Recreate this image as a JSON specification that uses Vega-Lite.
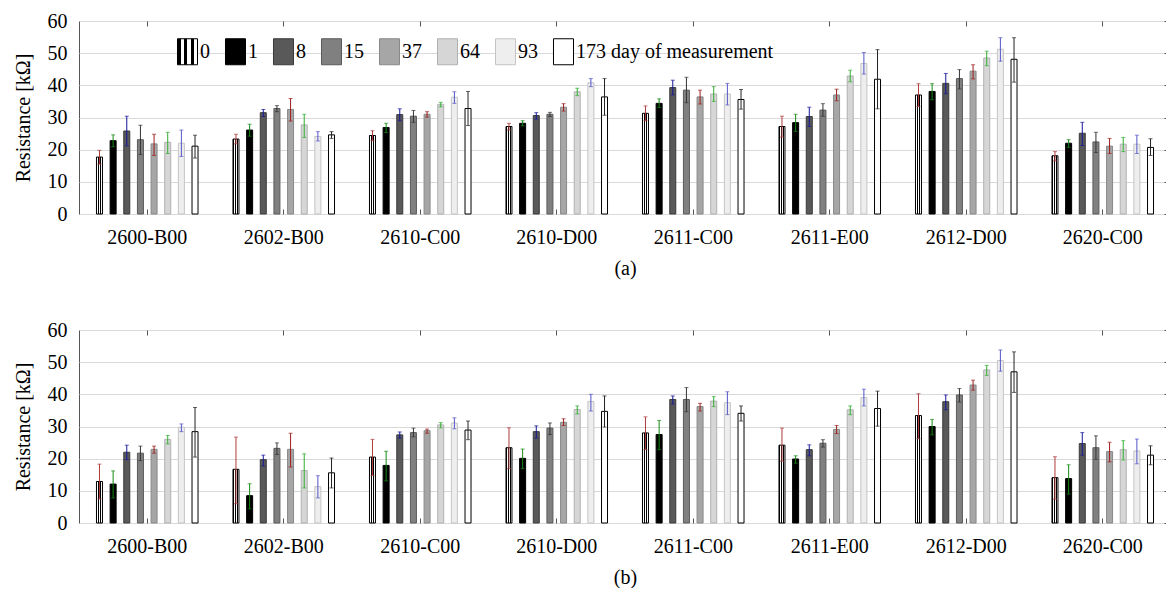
{
  "$schema": "https://vega.github.io/schema/vega-lite/v6.json",
  "padding": {"left": 12, "top": 10, "right": -6, "bottom": 0},
  "spacing": 40,
  "config": {
    "font": "Liberation Serif",
    "view": {"stroke": "#555555", "strokeWidth": 1},
    "axis": {"labelFont": "Liberation Serif", "titleFont": "Liberation Serif", "labelFontSize": 20, "titleFontSize": 20, "labelColor": "#000000", "titleColor": "#000000", "titleFontWeight": "normal", "domain": false}
  },
  "datasets": {
    "a": [
      {"device":"2600-B00","day":"0","r":17.7,"lo":15.5,"hi":19.8},
      {"device":"2600-B00","day":"1","r":22.8,"lo":20.9,"hi":24.6},
      {"device":"2600-B00","day":"8","r":25.8,"lo":21.2,"hi":30.4},
      {"device":"2600-B00","day":"15","r":23.1,"lo":18.5,"hi":27.6},
      {"device":"2600-B00","day":"37","r":21.8,"lo":18.2,"hi":24.8},
      {"device":"2600-B00","day":"64","r":22.3,"lo":18.8,"hi":25.4},
      {"device":"2600-B00","day":"93","r":22.0,"lo":17.9,"hi":26.1},
      {"device":"2600-B00","day":"173","r":21.1,"lo":17.4,"hi":24.5},
      {"device":"2602-B00","day":"0","r":23.3,"lo":21.8,"hi":24.8},
      {"device":"2602-B00","day":"1","r":26.1,"lo":24.2,"hi":27.9},
      {"device":"2602-B00","day":"8","r":31.5,"lo":30.3,"hi":32.5},
      {"device":"2602-B00","day":"15","r":32.8,"lo":31.8,"hi":33.7},
      {"device":"2602-B00","day":"37","r":32.5,"lo":28.9,"hi":35.9},
      {"device":"2602-B00","day":"64","r":27.7,"lo":23.8,"hi":31.0},
      {"device":"2602-B00","day":"93","r":24.1,"lo":22.7,"hi":25.6},
      {"device":"2602-B00","day":"173","r":24.6,"lo":23.5,"hi":25.6},
      {"device":"2610-C00","day":"0","r":24.4,"lo":22.8,"hi":25.9},
      {"device":"2610-C00","day":"1","r":26.9,"lo":25.3,"hi":28.2},
      {"device":"2610-C00","day":"8","r":30.9,"lo":29.0,"hi":32.7},
      {"device":"2610-C00","day":"15","r":30.4,"lo":28.5,"hi":32.2},
      {"device":"2610-C00","day":"37","r":31.0,"lo":30.1,"hi":31.8},
      {"device":"2610-C00","day":"64","r":34.1,"lo":33.3,"hi":34.7},
      {"device":"2610-C00","day":"93","r":36.3,"lo":34.4,"hi":38.0},
      {"device":"2610-C00","day":"173","r":32.8,"lo":27.5,"hi":38.1},
      {"device":"2610-D00","day":"0","r":27.2,"lo":26.1,"hi":28.2},
      {"device":"2610-D00","day":"1","r":28.2,"lo":27.4,"hi":29.0},
      {"device":"2610-D00","day":"8","r":30.6,"lo":29.5,"hi":31.5},
      {"device":"2610-D00","day":"15","r":31.0,"lo":30.3,"hi":31.6},
      {"device":"2610-D00","day":"37","r":33.2,"lo":32.0,"hi":34.3},
      {"device":"2610-D00","day":"64","r":38.0,"lo":36.8,"hi":39.1},
      {"device":"2610-D00","day":"93","r":40.8,"lo":39.6,"hi":42.1},
      {"device":"2610-D00","day":"173","r":36.4,"lo":30.7,"hi":42.1},
      {"device":"2611-C00","day":"0","r":31.3,"lo":29.0,"hi":33.6},
      {"device":"2611-C00","day":"1","r":34.4,"lo":33.1,"hi":35.8},
      {"device":"2611-C00","day":"8","r":39.3,"lo":37.0,"hi":41.6},
      {"device":"2611-C00","day":"15","r":38.5,"lo":34.6,"hi":42.5},
      {"device":"2611-C00","day":"37","r":36.4,"lo":34.2,"hi":38.5},
      {"device":"2611-C00","day":"64","r":37.3,"lo":35.0,"hi":39.6},
      {"device":"2611-C00","day":"93","r":37.3,"lo":33.9,"hi":40.6},
      {"device":"2611-C00","day":"173","r":35.6,"lo":32.6,"hi":38.7},
      {"device":"2611-E00","day":"0","r":27.2,"lo":23.9,"hi":30.4},
      {"device":"2611-E00","day":"1","r":28.4,"lo":25.7,"hi":31.0},
      {"device":"2611-E00","day":"8","r":30.3,"lo":27.2,"hi":33.2},
      {"device":"2611-E00","day":"15","r":32.3,"lo":30.4,"hi":34.3},
      {"device":"2611-E00","day":"37","r":37.0,"lo":35.2,"hi":38.8},
      {"device":"2611-E00","day":"64","r":42.9,"lo":41.1,"hi":44.7},
      {"device":"2611-E00","day":"93","r":46.8,"lo":43.5,"hi":50.2},
      {"device":"2611-E00","day":"173","r":41.9,"lo":32.7,"hi":51.1},
      {"device":"2612-D00","day":"0","r":37.0,"lo":33.4,"hi":40.5},
      {"device":"2612-D00","day":"1","r":38.1,"lo":35.5,"hi":40.5},
      {"device":"2612-D00","day":"8","r":40.6,"lo":37.4,"hi":43.7},
      {"device":"2612-D00","day":"15","r":42.1,"lo":38.9,"hi":44.9},
      {"device":"2612-D00","day":"37","r":44.4,"lo":42.0,"hi":46.4},
      {"device":"2612-D00","day":"64","r":48.5,"lo":46.1,"hi":50.6},
      {"device":"2612-D00","day":"93","r":51.2,"lo":47.5,"hi":54.8},
      {"device":"2612-D00","day":"173","r":48.1,"lo":41.0,"hi":54.8},
      {"device":"2620-C00","day":"0","r":18.1,"lo":16.5,"hi":19.4},
      {"device":"2620-C00","day":"1","r":22.0,"lo":20.7,"hi":23.1},
      {"device":"2620-C00","day":"8","r":25.1,"lo":21.3,"hi":28.5},
      {"device":"2620-C00","day":"15","r":22.4,"lo":19.1,"hi":25.4},
      {"device":"2620-C00","day":"37","r":21.1,"lo":18.8,"hi":23.5},
      {"device":"2620-C00","day":"64","r":21.7,"lo":19.4,"hi":23.8},
      {"device":"2620-C00","day":"93","r":21.7,"lo":18.8,"hi":24.5},
      {"device":"2620-C00","day":"173","r":20.7,"lo":18.2,"hi":23.4}
    ],
    "b": [
      {"device":"2600-B00","day":"0","r":12.9,"lo":7.5,"hi":18.3},
      {"device":"2600-B00","day":"1","r":12.1,"lo":7.8,"hi":16.2},
      {"device":"2600-B00","day":"8","r":22.0,"lo":19.7,"hi":24.2},
      {"device":"2600-B00","day":"15","r":21.7,"lo":19.4,"hi":23.9},
      {"device":"2600-B00","day":"37","r":22.9,"lo":21.7,"hi":23.9},
      {"device":"2600-B00","day":"64","r":26.0,"lo":24.6,"hi":27.2},
      {"device":"2600-B00","day":"93","r":29.8,"lo":28.4,"hi":30.8},
      {"device":"2600-B00","day":"173","r":28.4,"lo":20.5,"hi":35.9},
      {"device":"2602-B00","day":"0","r":16.7,"lo":6.0,"hi":26.7},
      {"device":"2602-B00","day":"1","r":8.5,"lo":4.4,"hi":12.2},
      {"device":"2602-B00","day":"8","r":19.7,"lo":17.7,"hi":21.1},
      {"device":"2602-B00","day":"15","r":23.2,"lo":21.3,"hi":24.9},
      {"device":"2602-B00","day":"37","r":22.9,"lo":17.4,"hi":27.9},
      {"device":"2602-B00","day":"64","r":16.3,"lo":10.9,"hi":21.5},
      {"device":"2602-B00","day":"93","r":11.3,"lo":7.8,"hi":14.7},
      {"device":"2602-B00","day":"173","r":15.6,"lo":10.9,"hi":20.2},
      {"device":"2610-C00","day":"0","r":20.5,"lo":14.8,"hi":26.0},
      {"device":"2610-C00","day":"1","r":17.9,"lo":13.1,"hi":22.3},
      {"device":"2610-C00","day":"8","r":27.4,"lo":26.4,"hi":28.3},
      {"device":"2610-C00","day":"15","r":28.1,"lo":26.8,"hi":29.5},
      {"device":"2610-C00","day":"37","r":28.7,"lo":27.9,"hi":29.2},
      {"device":"2610-C00","day":"64","r":30.5,"lo":29.6,"hi":31.2},
      {"device":"2610-C00","day":"93","r":31.1,"lo":29.3,"hi":32.7},
      {"device":"2610-C00","day":"173","r":28.9,"lo":25.9,"hi":31.7},
      {"device":"2610-D00","day":"0","r":23.4,"lo":16.9,"hi":29.6},
      {"device":"2610-D00","day":"1","r":20.1,"lo":16.9,"hi":23.0},
      {"device":"2610-D00","day":"8","r":28.4,"lo":26.4,"hi":30.2},
      {"device":"2610-D00","day":"15","r":29.5,"lo":27.5,"hi":31.1},
      {"device":"2610-D00","day":"37","r":31.3,"lo":30.3,"hi":32.4},
      {"device":"2610-D00","day":"64","r":35.3,"lo":33.9,"hi":36.4},
      {"device":"2610-D00","day":"93","r":37.8,"lo":34.8,"hi":40.0},
      {"device":"2610-D00","day":"173","r":34.7,"lo":29.8,"hi":39.5},
      {"device":"2611-C00","day":"0","r":28.0,"lo":22.8,"hi":33.0},
      {"device":"2611-C00","day":"1","r":27.5,"lo":22.8,"hi":31.9},
      {"device":"2611-C00","day":"8","r":38.4,"lo":37.0,"hi":39.5},
      {"device":"2611-C00","day":"15","r":38.4,"lo":34.6,"hi":42.1},
      {"device":"2611-C00","day":"37","r":36.2,"lo":34.8,"hi":37.2},
      {"device":"2611-C00","day":"64","r":37.9,"lo":36.2,"hi":39.3},
      {"device":"2611-C00","day":"93","r":37.4,"lo":33.7,"hi":40.8},
      {"device":"2611-C00","day":"173","r":34.1,"lo":31.7,"hi":36.4},
      {"device":"2611-E00","day":"0","r":24.2,"lo":19.2,"hi":29.5},
      {"device":"2611-E00","day":"1","r":19.9,"lo":18.6,"hi":20.9},
      {"device":"2611-E00","day":"8","r":22.8,"lo":20.9,"hi":24.3},
      {"device":"2611-E00","day":"15","r":24.8,"lo":23.6,"hi":25.9},
      {"device":"2611-E00","day":"37","r":29.1,"lo":27.8,"hi":30.3},
      {"device":"2611-E00","day":"64","r":35.2,"lo":33.7,"hi":36.4},
      {"device":"2611-E00","day":"93","r":39.0,"lo":36.4,"hi":41.6},
      {"device":"2611-E00","day":"173","r":35.6,"lo":30.1,"hi":41.0},
      {"device":"2612-D00","day":"0","r":33.4,"lo":26.2,"hi":40.2},
      {"device":"2612-D00","day":"1","r":30.0,"lo":27.4,"hi":32.2},
      {"device":"2612-D00","day":"8","r":37.7,"lo":35.2,"hi":39.8},
      {"device":"2612-D00","day":"15","r":39.8,"lo":37.6,"hi":41.8},
      {"device":"2612-D00","day":"37","r":42.9,"lo":41.3,"hi":44.4},
      {"device":"2612-D00","day":"64","r":47.6,"lo":45.9,"hi":49.0},
      {"device":"2612-D00","day":"93","r":50.5,"lo":47.2,"hi":53.8},
      {"device":"2612-D00","day":"173","r":47.0,"lo":40.6,"hi":53.2},
      {"device":"2620-C00","day":"0","r":14.1,"lo":7.4,"hi":20.6},
      {"device":"2620-C00","day":"1","r":13.8,"lo":9.0,"hi":18.1},
      {"device":"2620-C00","day":"8","r":24.7,"lo":21.1,"hi":28.1},
      {"device":"2620-C00","day":"15","r":23.4,"lo":19.8,"hi":27.1},
      {"device":"2620-C00","day":"37","r":22.2,"lo":19.0,"hi":25.1},
      {"device":"2620-C00","day":"64","r":22.8,"lo":19.6,"hi":25.6},
      {"device":"2620-C00","day":"93","r":22.4,"lo":18.4,"hi":26.1},
      {"device":"2620-C00","day":"173","r":21.1,"lo":18.1,"hi":24.0}
    ]
  },
  "vconcat": [
    {
      "width": 1092,
      "height": 193,
      "data": {"name": "a"},
      "encoding": {
        "xOffset": {"field": "day", "type": "nominal", "sort": ["0","1","8","15","37","64","93","173"], "scale": {"paddingInner": 0.56, "paddingOuter": 0.28}}
      },
      "layer": [
        {
          "mark": {"type": "bar", "strokeWidth": 1},
          "encoding": {
            "x": {"field": "device", "type": "nominal", "sort": null, "scale": {"paddingInner": 0.2, "paddingOuter": 0.1},
                  "axis": {"orient": "bottom", "title": "(a)", "labelAngle": 0, "labelPadding": 18, "ticks": true, "tickSize": -5, "tickColor": "#555555", "titlePadding": 11}},
            "y": {"field": "r", "type": "quantitative", "scale": {"domain": [0, 60], "nice": false},
                  "axis": {"title": "Resistance [kΩ]", "values": [0,10,20,30,40,50,60], "grid": true, "gridColor": "#d9d9d9", "ticks": false, "labelPadding": 12, "titlePadding": 14}},
            "fill": {"field": "day", "type": "nominal", "sort": ["0","1","8","15","37","64","93","173"],
                     "scale": {"domain": ["0","1","8","15","37","64","93","173"],
                               "range": [{"expr": "{gradient: 'linear', x1: 0, y1: 0, x2: 1, y2: 0, stops: [{offset: 0, color: '#000000'}, {offset: 0.167, color: '#000000'}, {offset: 0.167, color: '#ffffff'}, {offset: 0.333, color: '#ffffff'}, {offset: 0.333, color: '#000000'}, {offset: 0.5, color: '#000000'}, {offset: 0.5, color: '#ffffff'}, {offset: 0.667, color: '#ffffff'}, {offset: 0.667, color: '#000000'}, {offset: 0.833, color: '#000000'}, {offset: 0.833, color: '#ffffff'}, {offset: 1, color: '#ffffff'}]}"}, "#000000", "#595959", "#808080", "#a6a6a6", "#d6d6d6", "#eeeeee", "#ffffff"]},
                     "legend": {"orient": "none", "legendX": 95, "legendY": 17, "direction": "horizontal", "columns": 8, "title": null, "padding": 0,
                                "symbolType": "M-0.77,-1H0.77V1H-0.77Z", "symbolSize": 676, "symbolStrokeColor": "#444444", "symbolStrokeWidth": 1, "symbolOpacity": 1,
                                "labelFont": "Liberation Serif", "labelFontSize": 20, "labelColor": "#000000", "labelOffset": -1, "columnPadding": 12, "labelLimit": 300,
                                "labelExpr": "datum.label == '173' ? '173 day of measurement' : datum.label"}},
            "stroke": {"field": "day", "type": "nominal", "scale": {"domain": ["0","1","8","15","37","64","93","173"], "range": ["#000000","#000000","#3a3a3a","#5a5a5a","#888888","#b0b0b0","#c4c4c4","#000000"]}, "legend": null}
          }
        },
        {
          "mark": {"type": "rule", "strokeWidth": 1},
          "encoding": {
            "x": {"field": "device", "type": "nominal", "sort": null, "axis": {"orient": "top", "title": null, "labels": false, "ticks": true, "tickSize": -5, "tickColor": "#555555"}},
            "y": {"field": "lo", "type": "quantitative", "axis": {"orient": "right", "title": null, "labels": false, "grid": false, "ticks": true, "tickSize": -7, "tickColor": "#555555", "values": [0,10,20,30,40,50,60]}},
            "y2": {"field": "hi"},
            "color": {"field": "day", "type": "nominal", "scale": {"domain": ["0","1","8","15","37","64","93","173"], "range": ["#b03a3a","#138a13","#16169a","#333333","#a01c1c","#2fae2f","#5454c8","#222222"]}, "legend": null}
          }
        },
        {
          "mark": {"type": "tick", "size": 4, "thickness": 1},
          "encoding": {
            "x": {"field": "device", "type": "nominal", "sort": null, "axis": null},
            "y": {"field": "lo", "type": "quantitative", "axis": null},
            "color": {"field": "day", "type": "nominal", "legend": null}
          }
        },
        {
          "mark": {"type": "tick", "size": 4, "thickness": 1},
          "encoding": {
            "x": {"field": "device", "type": "nominal", "sort": null, "axis": null},
            "y": {"field": "hi", "type": "quantitative", "axis": null},
            "color": {"field": "day", "type": "nominal", "legend": null}
          }
        }
      ],
      "resolve": {"axis": {"x": "independent", "y": "independent"}}
    },
    {
      "width": 1092,
      "height": 193,
      "data": {"name": "b"},
      "encoding": {
        "xOffset": {"field": "day", "type": "nominal", "sort": ["0","1","8","15","37","64","93","173"], "scale": {"paddingInner": 0.56, "paddingOuter": 0.28}}
      },
      "layer": [
        {
          "mark": {"type": "bar", "strokeWidth": 1},
          "encoding": {
            "x": {"field": "device", "type": "nominal", "sort": null, "scale": {"paddingInner": 0.2, "paddingOuter": 0.1},
                  "axis": {"orient": "bottom", "title": "(b)", "labelAngle": 0, "labelPadding": 18, "ticks": true, "tickSize": -5, "tickColor": "#555555", "titlePadding": 11}},
            "y": {"field": "r", "type": "quantitative", "scale": {"domain": [0, 60], "nice": false},
                  "axis": {"title": "Resistance [kΩ]", "values": [0,10,20,30,40,50,60], "grid": true, "gridColor": "#d9d9d9", "ticks": false, "labelPadding": 12, "titlePadding": 14}},
            "fill": {"field": "day", "type": "nominal", "sort": ["0","1","8","15","37","64","93","173"],
                     "scale": {"domain": ["0","1","8","15","37","64","93","173"],
                               "range": [{"expr": "{gradient: 'linear', x1: 0, y1: 0, x2: 1, y2: 0, stops: [{offset: 0, color: '#000000'}, {offset: 0.167, color: '#000000'}, {offset: 0.167, color: '#ffffff'}, {offset: 0.333, color: '#ffffff'}, {offset: 0.333, color: '#000000'}, {offset: 0.5, color: '#000000'}, {offset: 0.5, color: '#ffffff'}, {offset: 0.667, color: '#ffffff'}, {offset: 0.667, color: '#000000'}, {offset: 0.833, color: '#000000'}, {offset: 0.833, color: '#ffffff'}, {offset: 1, color: '#ffffff'}]}"}, "#000000", "#595959", "#808080", "#a6a6a6", "#d6d6d6", "#eeeeee", "#ffffff"]},
                     "legend": {"orient": "none", "legendX": 95, "legendY": 15, "direction": "horizontal", "columns": 8, "title": null, "padding": 0,
                                "symbolType": "M-0.77,-1H0.77V1H-0.77Z", "symbolSize": 676, "symbolStrokeColor": "#444444", "symbolStrokeWidth": 1, "symbolOpacity": 1,
                                "labelFont": "Liberation Serif", "labelFontSize": 20, "labelColor": "#000000", "labelOffset": -1, "columnPadding": 12, "labelLimit": 300,
                                "labelExpr": "datum.label == '173' ? '173 day of measurement' : datum.label"}},
            "stroke": {"field": "day", "type": "nominal", "scale": {"domain": ["0","1","8","15","37","64","93","173"], "range": ["#000000","#000000","#3a3a3a","#5a5a5a","#888888","#b0b0b0","#c4c4c4","#000000"]}, "legend": null}
          }
        },
        {
          "mark": {"type": "rule", "strokeWidth": 1},
          "encoding": {
            "x": {"field": "device", "type": "nominal", "sort": null, "axis": {"orient": "top", "title": null, "labels": false, "ticks": true, "tickSize": -5, "tickColor": "#555555"}},
            "y": {"field": "lo", "type": "quantitative", "axis": {"orient": "right", "title": null, "labels": false, "grid": false, "ticks": true, "tickSize": -7, "tickColor": "#555555", "values": [0,10,20,30,40,50,60]}},
            "y2": {"field": "hi"},
            "color": {"field": "day", "type": "nominal", "scale": {"domain": ["0","1","8","15","37","64","93","173"], "range": ["#b03a3a","#138a13","#16169a","#333333","#a01c1c","#2fae2f","#5454c8","#222222"]}, "legend": null}
          }
        },
        {
          "mark": {"type": "tick", "size": 4, "thickness": 1},
          "encoding": {
            "x": {"field": "device", "type": "nominal", "sort": null, "axis": null},
            "y": {"field": "lo", "type": "quantitative", "axis": null},
            "color": {"field": "day", "type": "nominal", "legend": null}
          }
        },
        {
          "mark": {"type": "tick", "size": 4, "thickness": 1},
          "encoding": {
            "x": {"field": "device", "type": "nominal", "sort": null, "axis": null},
            "y": {"field": "hi", "type": "quantitative", "axis": null},
            "color": {"field": "day", "type": "nominal", "legend": null}
          }
        }
      ],
      "resolve": {"axis": {"x": "independent", "y": "independent"}}
    }
  ]
}
